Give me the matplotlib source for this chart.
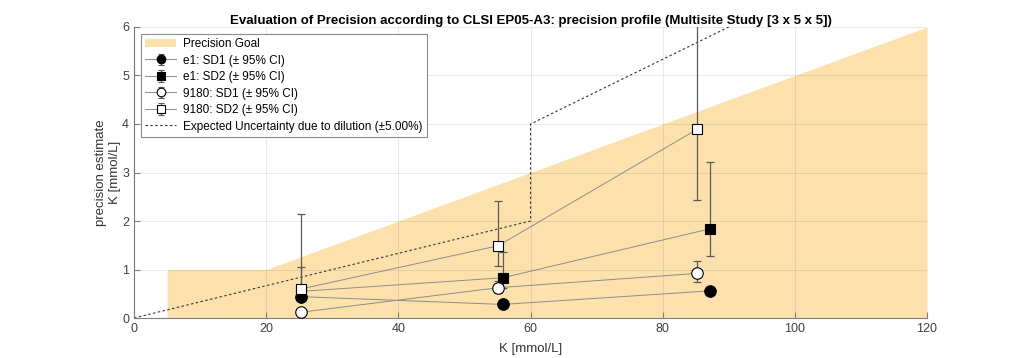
import matplotlib
matplotlib.use("Agg")
import matplotlib.pyplot as plt
import numpy as np

plt.rcParams['font.family'] = ['Liberation Sans', 'DejaVu Sans']

# Precision goal profile
goal_x = [5, 20, 120]
goal_y = [1, 1, 6]

# Expected uncertainty due to dilution
dil_x = [0, 60, 60, 120]
dil_y = [0, 2, 4, 8]

# e1 series
e1_x = [25.3, 55.8, 87.2]
e1_sd1 = [0.44, 0.28, 0.56]
e1_sd1_lo = [0.38, 0.24, 0.50]
e1_sd1_hi = [0.52, 0.33, 0.64]
e1_sd2 = [0.55, 0.83, 1.84]
e1_sd2_lo = [0.40, 0.62, 1.28]
e1_sd2_hi = [1.06, 1.355, 3.21]

# 9180 series
n_x = [25.3, 55.1, 85.2]
n_sd1 = [0.12, 0.625, 0.92]
n_sd1_lo = [0.09, 0.52, 0.75]
n_sd1_hi = [0.17, 0.76, 1.18]
n_sd2 = [0.60, 1.49, 3.89]
n_sd2_lo = [0.40, 1.08, 2.43]
n_sd2_hi = [2.14, 2.42, 8.5]

fig = plt.figure(figsize=(10.24, 3.58), dpi=100)
ax = fig.add_axes([0.1309, 0.1117, 0.7744, 0.8129])

fill_color = '#fde1ad'
gx = np.array(goal_x, dtype=float)
gy = np.array(goal_y, dtype=float)
h_goal = ax.fill_between(gx, 0, gy, color=fill_color, linewidth=0, label='Precision Goal', zorder=1)

line_col = '#8c8c8c'
err_col = '#5a5a5a'

def series(x, y, lo, hi, marker, face, ms, label):
    y = np.array(y); lo = np.array(lo); hi = np.array(hi)
    ax.plot(x, y, '-', color=line_col, lw=0.7, zorder=2)
    ax.errorbar(x, y, yerr=[y - lo, hi - y], fmt='none', ecolor=err_col,
                elinewidth=0.9, capsize=3.2, capthick=0.9, zorder=3)
    ax.plot(x, y, linestyle='none', marker=marker, mfc=face, mec='black',
            ms=ms, mew=0.8, zorder=4)
    h = ax.errorbar([np.nan], [np.nan], yerr=[[np.nan], [np.nan]], fmt='-', color=line_col,
                    ecolor=err_col, elinewidth=0.9, capsize=2.5, lw=0.7,
                    marker=marker, mfc=face, mec='black', ms=ms * 0.75, mew=0.8, label=label)
    return h

h1 = series(e1_x, e1_sd1, e1_sd1_lo, e1_sd1_hi, 'o', 'black', 8.3, 'e1: SD1 (\u00b1 95% CI)')
h2 = series(e1_x, e1_sd2, e1_sd2_lo, e1_sd2_hi, 's', 'black', 7, 'e1: SD2 (\u00b1 95% CI)')
h4 = series(n_x, n_sd2, n_sd2_lo, n_sd2_hi, 's', 'white', 7, '9180: SD2 (\u00b1 95% CI)')
h3 = series(n_x, n_sd1, n_sd1_lo, n_sd1_hi, 'o', 'white', 8.3, '9180: SD1 (\u00b1 95% CI)')

h5, = ax.plot(dil_x, dil_y, color='#333333', lw=0.8, linestyle=(0, (2.2, 2.2)),
              label='Expected Uncertainty due to dilution (\u00b15.00%)', zorder=2.5)

ax.set_xlim(0, 120)
ax.set_ylim(0, 6)
ax.set_xticks(np.arange(0, 121, 20))
ax.set_yticks(np.arange(0, 7, 1))
ax.grid(True, color='#262626', alpha=0.1, lw=0.7)
ax.set_axisbelow(False)
for s in ['top', 'right']:
    ax.spines[s].set_visible(False)
for s in ['left', 'bottom']:
    ax.spines[s].set_color('#7f7f7f')
    ax.spines[s].set_linewidth(0.8)
ax.tick_params(direction='in', length=4, colors='#7f7f7f', labelcolor='#404040', labelsize=9)

ax.set_xlabel('K [mmol/L]', fontsize=9.5, color='#333333', labelpad=6)
ax.set_ylabel('precision estimate\nK [mmol/L]', fontsize=9.5, color='#333333', labelpad=1)
ax.set_title('Evaluation of Precision according to CLSI EP05-A3: precision profile (Multisite Study [3 x 5 x 5])',
             fontsize=9.5, fontweight='bold', pad=2)

leg = ax.legend(handles=[h_goal, h1, h2, h3, h4, h5], loc='upper left',
                bbox_to_anchor=(0.009, 0.976), fontsize=8.5, frameon=True, fancybox=False,
                edgecolor='#8c8c8c', framealpha=1, handlelength=2.6, handletextpad=0.6,
                borderpad=0.35, labelspacing=0.38, borderaxespad=0)
leg.get_frame().set_linewidth(0.8)
leg.set_zorder(10)

fig.savefig('out.png', dpi=100)
